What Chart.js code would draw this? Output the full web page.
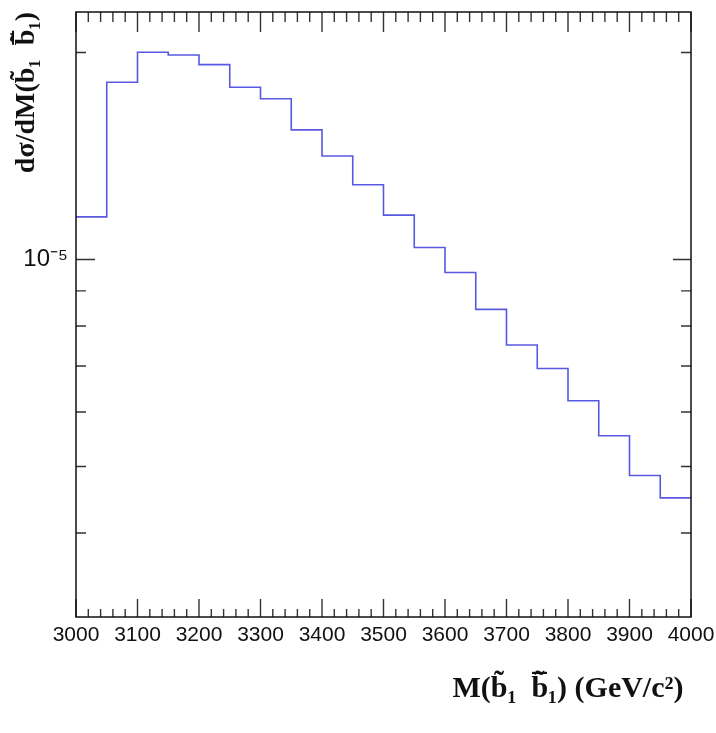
<!DOCTYPE html>
<html>
<head>
<meta charset="utf-8">
<script src="https://cdn.jsdelivr.net/npm/chart.js@4.4.1/dist/chart.umd.min.js"></script>
<style>
  html, body { margin: 0; padding: 0; background: #fff; }
  #histo { display: block; width: 716px; height: 733px; }
</style>
</head>
<body>
<canvas id="histo" width="716" height="733"></canvas>
<script>
// bin edges (GeV/c^2) and bin contents
const binEdges = [3000, 3050, 3100, 3150, 3200, 3250, 3300, 3350, 3400, 3450, 3500,
                  3550, 3600, 3650, 3700, 3750, 3800, 3850, 3900, 3950, 4000];
const binValues = [1.153e-5, 1.810e-5, 2.001e-5, 1.983e-5, 1.920e-5, 1.780e-5, 1.713e-5,
                   1.543e-5, 1.414e-5, 1.284e-5, 1.160e-5, 1.041e-5, 9.57e-6, 8.46e-6,
                   7.51e-6, 6.94e-6, 6.23e-6, 5.54e-6, 4.85e-6, 4.50e-6];
const xTickValues = [3000, 3100, 3200, 3300, 3400, 3500, 3600, 3700, 3800, 3900, 4000];
const yTickValues = [4e-6, 5e-6, 6e-6, 7e-6, 8e-6, 9e-6, 1e-5, 2e-5];
const yTickLabels = [null, null, null, null, null, null, '10\u207B\u2075', null];

const xTitle = 'M(b\u0303\u2081  b\u0303\u0305\u2081) (GeV/c\u00B2) ';
const yTitle = 'd\u03C3/dM(b\u0303\u2081  b\u0303\u0305\u2081)';

// step histogram points: left edge of each bin, plus closing point at the last edge
let points = binValues.map((v, i) => ({ x: binEdges[i], y: v }));
points.push({ x: binEdges[binEdges.length - 1], y: binValues[binValues.length - 1] });

// ROOT-like frame with inward tick marks on all four sides
const rootFrame = {
    id: 'rootFrame',
    afterDraw(chart) {
        const ctx = chart.ctx;
        const a = chart.chartArea;
        const xs = chart.scales.x;
        const ys = chart.scales.y;
        ctx.save();
        ctx.strokeStyle = '#333';
        ctx.lineWidth = 1.4;

        for (let v = 3000; v <= 4000; v += 20) {
            const px = xs.getPixelForValue(v);
            const major = v % 100 === 0;
            ctx.beginPath();
            ctx.moveTo(px, a.bottom);
            ctx.lineTo(px, a.bottom - (major ? 18 : 8));
            ctx.moveTo(px, a.top);
            ctx.lineTo(px, a.top + (major ? 20 : 10));
            ctx.stroke();
        }
        yTickValues.forEach((v, i) => {
            const py = ys.getPixelForValue(v);
            const major = yTickLabels[i] !== null;
            ctx.beginPath();
            ctx.moveTo(a.left, py);
            ctx.lineTo(a.left + (major ? 19 : 10), py);
            ctx.moveTo(a.right, py);
            ctx.lineTo(a.right - (major ? 18 : 10), py);
            ctx.stroke();
        });

        ctx.strokeStyle = '#111';
        ctx.lineWidth = 1.5;
        ctx.strokeRect(a.left, a.top, a.right - a.left, a.bottom - a.top);
        ctx.restore();
    }
};

new Chart(document.getElementById('histo'), {
    type: 'line',
    data: {
        datasets: [{
            data: points,
            stepped: 'before',
            borderColor: '#5858e0',
            borderWidth: 1.6,
            pointRadius: 0,
            fill: false
        }]
    },
    options: {
        responsive: false,
        animation: false,
        layout: { padding: { left: 0, right: 25, top: 12, bottom: 0 } },
        plugins: {
            legend: { display: false },
            tooltip: { enabled: false }
        },
        scales: {
            x: {
                type: 'linear',
                min: 3000,
                max: 4000,
                grid: { display: false, drawTicks: false },
                border: { display: false },
                afterBuildTicks: (scale) => {
                    scale.ticks = xTickValues.map(v => ({ value: v }));
                },
                afterFit: (scale) => {
                    scale.height = 116;
                    scale.paddingLeft = 0;
                    scale.paddingRight = 0;
                },
                ticks: {
                    autoSkip: false,
                    maxRotation: 0,
                    padding: 6,
                    color: '#111',
                    font: { family: "'Liberation Sans', Arial, sans-serif", size: 21 },
                    callback: (v) => String(v)
                },
                title: {
                    display: true,
                    text: xTitle,
                    align: 'end',
                    color: '#111',
                    padding: { top: 8, bottom: 26 },
                    font: { family: "'Liberation Serif', 'Times New Roman', serif", size: 30, weight: 'bold' }
                }
            },
            y: {
                type: 'logarithmic',
                min: 3.02e-6,
                max: 2.29e-5,
                grid: { display: false, drawTicks: false },
                border: { display: false },
                afterBuildTicks: (scale) => {
                    scale.ticks = yTickValues.map(v => ({ value: v }));
                },
                afterFit: (scale) => {
                    scale.width = 76;
                    scale.paddingTop = 0;
                    scale.paddingBottom = 0;
                },
                ticks: {
                    autoSkip: false,
                    padding: 8,
                    color: '#111',
                    font: { family: "'Liberation Sans', Arial, sans-serif", size: 24 },
                    callback: (v, i) => yTickLabels[i]
                },
                title: {
                    display: true,
                    text: yTitle,
                    align: 'end',
                    color: '#111',
                    padding: { top: 10, bottom: 0 },
                    font: { family: "'Liberation Serif', 'Times New Roman', serif", size: 28, weight: 'bold' }
                }
            }
        }
    },
    plugins: [rootFrame]
});
</script>
</body>
</html>
